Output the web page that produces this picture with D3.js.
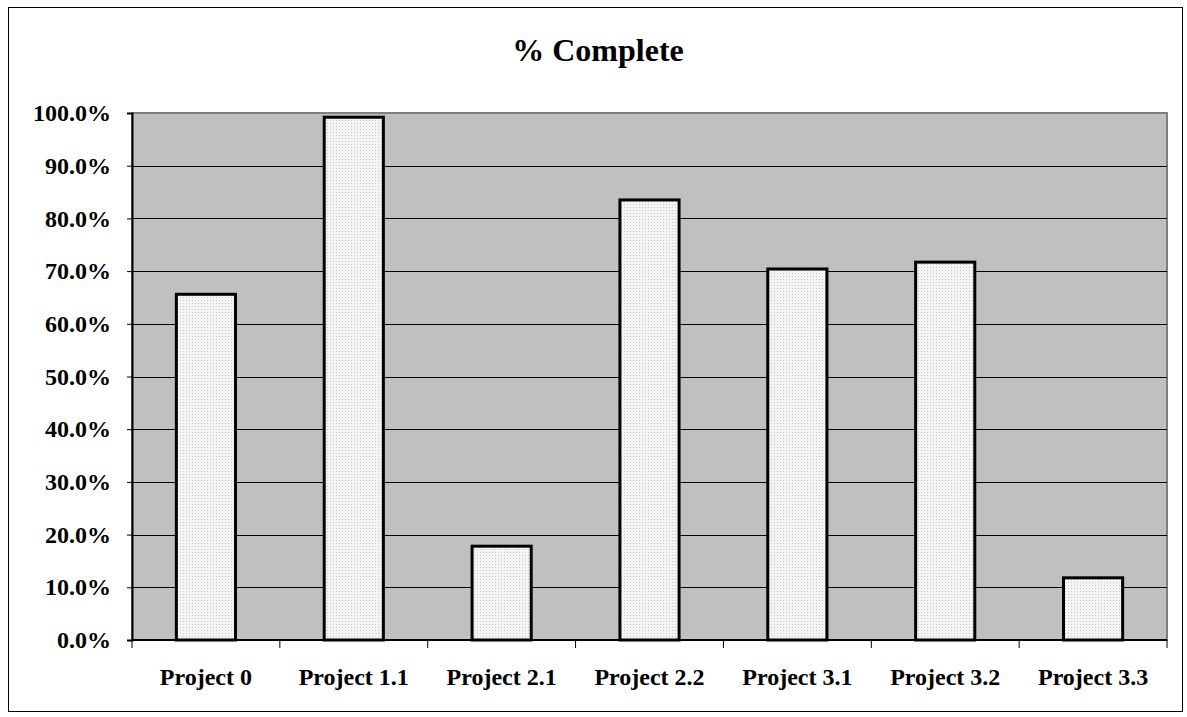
<!DOCTYPE html>
<html>
<head>
<meta charset="utf-8">
<script src="https://cdn.jsdelivr.net/npm/d3@7"></script>
<style>
  body { margin: 0; background: #fff; }
  text { font-family: "Liberation Serif", "Times New Roman", serif; font-weight: bold; }
</style>
</head>
<body>
<script>
const categories = ['Project 0', 'Project 1.1', 'Project 2.1', 'Project 2.2', 'Project 3.1', 'Project 3.2', 'Project 3.3']
const complete = [65.6, 99.2, 17.8, 83.5, 70.4, 71.7, 11.8]
const yTicks = [0, 10, 20, 30, 40, 50, 60, 70, 80, 90, 100]

const W = 1187, H = 717
const plotLeft = 132, plotRight = 1167, plotTop = 113, plotBottom = 640

const svg = d3.select('body')
  .append('svg')
  .attr('width', W)
  .attr('height', H)

// dotted fill for the bars
const pat = svg.append('defs').append('pattern')
  .attr('id', 'dots')
  .attr('width', 3)
  .attr('height', 3)
  .attr('patternUnits', 'userSpaceOnUse')
pat.append('rect').attr('width', 3).attr('height', 3).attr('fill', '#f4f4f4')
pat.append('rect').attr('width', 1).attr('height', 1).attr('fill', '#c8c8c8')

// outer frame
svg.append('rect')
  .attr('x', 8.5).attr('y', 7.5)
  .attr('width', 1174).attr('height', 704)
  .attr('fill', '#fff')
  .attr('stroke', '#000')
  .attr('stroke-width', 1)

svg.append('text')
  .attr('x', 598)
  .attr('y', 61)
  .attr('text-anchor', 'middle')
  .attr('font-size', 32)
  .text('% Complete')

const x = d3.scaleBand()
  .domain(categories)
  .range([plotLeft, plotRight])
  .paddingInner(0.6)
  .paddingOuter(0.3)

const xb = d3.scaleBand().domain(categories).range([plotLeft, plotRight])

const y = d3.scaleLinear()
  .domain([0, 100])
  .range([plotBottom, plotTop])

// plot area
svg.append('rect')
  .attr('x', plotLeft).attr('y', plotTop)
  .attr('width', plotRight - plotLeft).attr('height', plotBottom - plotTop)
  .attr('fill', '#c0c0c0')
  .attr('stroke', '#808080')
  .attr('stroke-width', 2)

svg.append('g')
  .selectAll('line')
  .data(yTicks.slice(1, -1))
  .enter()
  .append('line')
  .attr('x1', plotLeft).attr('x2', plotRight)
  .attr('y1', d => Math.round(y(d)) + 0.5)
  .attr('y2', d => Math.round(y(d)) + 0.5)
  .attr('stroke', '#000')
  .attr('stroke-width', 1)

svg.append('g')
  .selectAll('rect')
  .data(complete)
  .enter()
  .append('rect')
  .attr('x', (d, i) => x(categories[i]))
  .attr('y', d => y(d))
  .attr('width', x.bandwidth())
  .attr('height', d => plotBottom - y(d))
  .attr('fill', 'url(#dots)')
  .attr('stroke', '#000')
  .attr('stroke-width', 3)

// y axis
const yAxis = svg.append('g')
  .attr('transform', `translate(${plotLeft},0)`)
  .call(d3.axisLeft(y).tickValues(yTicks).tickSize(5).tickPadding(16).tickFormat(d => d.toFixed(1) + '%'))
yAxis.select('.domain').attr('stroke', '#000').attr('stroke-width', 2)
yAxis.selectAll('text').attr('font-size', 24).attr('fill', '#000')
  .style('font-family', '"Liberation Serif", serif').style('font-weight', 'bold')

// x axis
const xAxis = svg.append('g')
  .attr('transform', `translate(0,${plotBottom})`)
xAxis.append('line')
  .attr('x1', plotLeft).attr('x2', plotRight)
  .attr('stroke', '#000').attr('stroke-width', 2)
xAxis.selectAll('line.tick')
  .data(categories.concat(['end']))
  .enter()
  .append('line')
  .attr('class', 'tick')
  .attr('x1', (d, i) => i < categories.length ? xb(d) : plotRight)
  .attr('x2', (d, i) => i < categories.length ? xb(d) : plotRight)
  .attr('y1', 0).attr('y2', 8)
  .attr('stroke', '#000').attr('stroke-width', 1)
xAxis.selectAll('text')
  .data(categories)
  .enter()
  .append('text')
  .attr('x', d => xb(d) + xb.bandwidth() / 2)
  .attr('y', 45)
  .attr('text-anchor', 'middle')
  .attr('font-size', 24)
  .text(d => d)
</script>
</body>
</html>
